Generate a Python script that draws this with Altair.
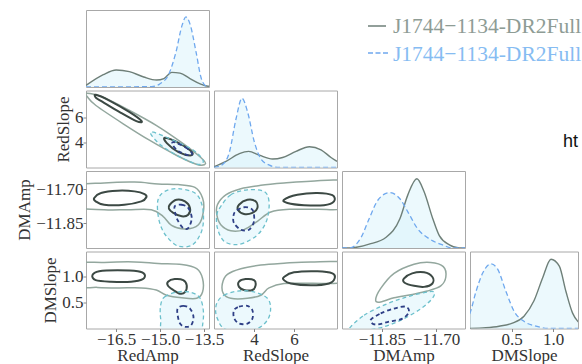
import altair as alt
import pandas as pd

# ---------------- axis ranges / ticks ----------------
PARAMS = ["RedAmp", "RedSlope", "DMAmp", "DMSlope"]
DOMAINS = {"RedAmp": [-17.53, -13.33], "RedSlope": [2.0, 8.15],
           "DMAmp": [-11.96, -11.62], "DMSlope": [0.0, 1.48]}
DMSLOPE_X_DOMAIN = [0.0, 1.30]          # last column is cut at the picture edge
TICKS = {"RedAmp": [-16.5, -15.0, -13.5], "RedSlope": [4, 6],
         "DMAmp": [-11.85, -11.70], "DMSlope": [0.5, 1.0]}
FORMATS = {"RedAmp": ".1f", "RedSlope": "d", "DMAmp": ".2f", "DMSlope": ".1f"}
SERIES = ["J1744\u22121134-DR2Full", "J1744\u22121134-DR2Full+"]
CUT_TEXT = ["ht"]

# ---------------- 1D marginals (relative density) ----------------
REDAMP_FULL_X = [-17.53, -16.94, -16.50, -16.05, -15.56, -15.12, -14.87, -14.60, -14.32, -13.98, -13.63, -13.36, -13.33]
REDAMP_FULL_D = [0.02, 0.16, 0.22, 0.20, 0.13, 0.09, 0.11, 0.19, 0.18, 0.11, 0.04, 0.01, 0.01]
REDAMP_PLUS_X = [-17.53, -15.29, -15.01, -14.70, -14.46, -14.25, -14.12, -13.98, -13.77, -13.60, -13.43, -13.33]
REDAMP_PLUS_D = [0.0, 0.005, 0.04, 0.17, 0.45, 0.80, 0.91, 0.82, 0.45, 0.12, 0.01, 0.0]

REDSLOPE_FULL_X = [2.0, 2.6, 3.27, 3.73, 4.27, 4.93, 5.43, 6.1, 6.77, 7.35, 7.85, 8.15]
REDSLOPE_FULL_D = [0.01, 0.08, 0.18, 0.21, 0.16, 0.11, 0.13, 0.21, 0.27, 0.23, 0.13, 0.08]
REDSLOPE_PLUS_X = [2.0, 2.43, 2.77, 3.1, 3.4, 3.68, 4.02, 4.35, 4.77, 5.27, 8.15]
REDSLOPE_PLUS_D = [0.0, 0.04, 0.20, 0.63, 0.90, 0.72, 0.33, 0.11, 0.03, 0.0, 0.0]

DMAMP_FULL_X = [-11.96, -11.94, -11.885, -11.838, -11.80, -11.778, -11.753, -11.733, -11.709, -11.691, -11.663, -11.636, -11.62]
DMAMP_FULL_D = [0.0, 0.0, 0.05, 0.14, 0.38, 0.69, 0.90, 0.73, 0.38, 0.16, 0.04, 0.0, 0.0]
DMAMP_PLUS_X = [-11.96, -11.94, -11.907, -11.885, -11.861, -11.829, -11.80, -11.778, -11.751, -11.719, -11.682, -11.654, -11.62]
DMAMP_PLUS_D = [0.0, 0.0, 0.14, 0.38, 0.62, 0.72, 0.64, 0.47, 0.25, 0.12, 0.04, 0.0, 0.0]

DMSLOPE_FULL_X = [0.0, 0.19, 0.35, 0.51, 0.65, 0.77, 0.875, 0.975, 1.075, 1.155, 1.235, 1.30, 1.40, 1.48]
DMSLOPE_FULL_D = [0.0, 0.01, 0.03, 0.07, 0.16, 0.36, 0.66, 0.90, 0.81, 0.48, 0.20, 0.09, 0.03, 0.01]
DMSLOPE_PLUS_X = [-0.05, 0.0, 0.072, 0.153, 0.253, 0.333, 0.433, 0.533, 0.653, 0.794, 0.954, 1.48]
DMSLOPE_PLUS_D = [0.10, 0.20, 0.48, 0.72, 0.84, 0.77, 0.48, 0.22, 0.09, 0.03, 0.0, 0.0]

# ---------------- 2D contours (x, y) ----------------
RA_RS_FULL_OUTER = [(-17.51, 7.93), (-16.95, 7.61), (-16.04, 6.55), (-15.12, 5.35), (-14.20, 3.89), (-13.62, 2.82), (-13.45, 2.30), (-13.74, 2.24), (-14.43, 2.96), (-15.35, 4.16), (-16.26, 5.49), (-17.19, 6.95), (-17.47, 7.61)]
RA_RS_FULL_IN_A = [(-17.19, 7.81), (-16.73, 7.35), (-16.04, 6.42), (-15.63, 5.70), (-15.81, 5.70), (-16.38, 6.42), (-16.95, 7.22), (-17.19, 7.57)]
RA_RS_FULL_IN_B = [(-14.83, 4.37), (-14.31, 3.89), (-13.91, 3.22), (-13.97, 2.96), (-14.37, 3.22), (-14.77, 3.95)]
RA_RS_PLUS_OUTER = [(-15.23, 4.82), (-14.54, 4.16), (-13.85, 3.36), (-13.53, 2.56), (-13.68, 2.24), (-14.20, 2.70), (-14.89, 3.63), (-15.29, 4.56)]
RA_RS_PLUS_IN = [(-14.54, 4.03), (-14.14, 3.62), (-13.91, 3.14), (-14.02, 2.96), (-14.37, 3.30), (-14.56, 3.76)]

RA_DA_FULL_OUTER = [(-17.9, -11.688), (-16.91, -11.673), (-15.87, -11.669), (-15.07, -11.677), (-14.38, -11.680), (-13.81, -11.692), (-13.55, -11.739), (-13.52, -11.798), (-13.69, -11.857), (-14.15, -11.876), (-14.61, -11.860), (-14.90, -11.820), (-15.30, -11.791), (-16.11, -11.791), (-16.91, -11.791), (-17.9, -11.776)]
RA_DA_FULL_IN_A = [(-17.25, -11.739), (-17.02, -11.717), (-16.45, -11.707), (-15.87, -11.710), (-15.53, -11.722), (-15.47, -11.736), (-15.64, -11.754), (-16.22, -11.769), (-16.91, -11.769), (-17.20, -11.754)]
RA_DA_FULL_IN_B = [(-14.67, -11.769), (-14.44, -11.747), (-14.15, -11.754), (-13.98, -11.783), (-14.04, -11.813), (-14.26, -11.820), (-14.55, -11.805), (-14.70, -11.786)]
RA_DA_PLUS_OUTER = [(-15.07, -11.747), (-14.84, -11.710), (-14.38, -11.698), (-13.81, -11.717), (-13.57, -11.769), (-13.52, -11.842), (-13.63, -11.901), (-13.92, -11.948), (-14.38, -11.952), (-14.73, -11.916), (-14.95, -11.872), (-15.07, -11.813)]
RA_DA_PLUS_IN = [(-14.50, -11.776), (-14.27, -11.769), (-14.04, -11.783), (-13.92, -11.828), (-14.04, -11.872), (-14.21, -11.872), (-14.38, -11.842), (-14.47, -11.813)]

RS_DA_FULL_OUTER = [(8.6, -11.669), (6.84, -11.665), (5.5, -11.673), (4.34, -11.683), (3.34, -11.698), (2.59, -11.725), (2.17, -11.769), (2.14, -11.813), (2.34, -11.857), (2.84, -11.884), (3.5, -11.879), (4.17, -11.842), (4.84, -11.801), (5.84, -11.789), (7.17, -11.789), (8.6, -11.780)]
RS_DA_FULL_IN_A = [(5.5, -11.747), (6.17, -11.725), (7.17, -11.717), (7.92, -11.727), (8.0, -11.754), (7.5, -11.771), (6.5, -11.771), (5.67, -11.761)]
RS_DA_FULL_IN_B = [(3.25, -11.769), (3.67, -11.747), (4.08, -11.754), (4.17, -11.783), (3.92, -11.805), (3.5, -11.810), (3.2, -11.791)]
RS_DA_PLUS_OUTER = [(2.34, -11.776), (2.84, -11.725), (3.67, -11.703), (4.5, -11.710), (4.75, -11.754), (4.67, -11.828), (4.34, -11.886), (3.84, -11.923), (3.17, -11.945), (2.5, -11.930), (2.17, -11.872), (2.14, -11.813)]
RS_DA_PLUS_IN = [(3.08, -11.798), (3.5, -11.780), (3.92, -11.791), (4.0, -11.842), (3.75, -11.879), (3.34, -11.879), (3.0, -11.850), (2.97, -11.820)]

RA_DS_FULL_OUTER = [(-17.9, 1.23), (-16.91, 1.27), (-15.87, 1.28), (-15.07, 1.25), (-14.26, 1.23), (-13.75, 1.15), (-13.55, 0.96), (-13.55, 0.70), (-13.75, 0.58), (-14.26, 0.59), (-14.78, 0.64), (-15.13, 0.74), (-15.64, 0.78), (-16.45, 0.78), (-17.14, 0.79), (-17.9, 0.82)]
RA_DS_FULL_IN_A = [(-17.31, 1.024), (-17.08, 1.10), (-16.45, 1.12), (-15.76, 1.10), (-15.53, 1.04), (-15.59, 0.95), (-15.99, 0.90), (-16.68, 0.90), (-17.20, 0.93)]
RA_DS_FULL_IN_B = [(-14.73, 0.90), (-14.50, 0.95), (-14.21, 0.93), (-14.09, 0.83), (-14.15, 0.70), (-14.32, 0.67), (-14.55, 0.74), (-14.73, 0.82)]
RA_DS_PLUS_OUTER = [(-14.98, 0.45), (-14.84, 0.61), (-14.38, 0.705), (-13.92, 0.69), (-13.63, 0.58), (-13.52, 0.32), (-13.55, 0.06), (-13.63, -0.15), (-14.84, -0.15), (-14.98, 0.19)]
RA_DS_PLUS_IN = [(-14.40, 0.384), (-14.21, 0.436), (-13.98, 0.384), (-13.86, 0.224), (-13.94, 0.063), (-14.15, 0.032), (-14.32, 0.096), (-14.40, 0.255)]

RS_DS_FULL_OUTER = [(8.6, 1.255), (6.84, 1.28), (5.5, 1.255), (4.34, 1.22), (3.34, 1.15), (2.67, 1.04), (2.42, 0.865), (2.47, 0.67), (2.84, 0.58), (3.67, 0.58), (4.34, 0.64), (4.75, 0.78), (5.5, 0.865), (6.84, 0.87), (8.6, 0.90)]
RS_DS_FULL_IN_A = [(5.5, 0.99), (6.0, 1.08), (7.17, 1.10), (7.92, 1.06), (8.03, 0.96), (7.75, 0.865), (6.84, 0.83), (5.84, 0.865), (5.5, 0.93)]
RS_DS_FULL_IN_B = [(3.25, 0.90), (3.58, 0.95), (4.0, 0.93), (4.08, 0.83), (3.92, 0.74), (3.5, 0.74), (3.25, 0.80)]
RS_DS_PLUS_OUTER = [(2.17, 0.51), (2.5, 0.64), (3.17, 0.72), (4.0, 0.705), (4.67, 0.58), (4.83, 0.38), (4.67, 0.16), (4.17, 0.0), (3.34, -0.06), (2.5, 0.0), (2.17, 0.19), (2.08, 0.35)]
RS_DS_PLUS_IN = [(3.0, 0.35), (3.25, 0.42), (3.67, 0.436), (3.92, 0.35), (3.92, 0.19), (3.67, 0.095), (3.25, 0.095), (3.0, 0.205)]

DA_DS_FULL_OUTER = [(-11.867, 0.544), (-11.853, 0.77), (-11.816, 1.06), (-11.761, 1.236), (-11.715, 1.27), (-11.680, 1.19), (-11.673, 0.99), (-11.687, 0.82), (-11.724, 0.72), (-11.770, 0.65), (-11.816, 0.59), (-11.853, 0.51)]
DA_DS_FULL_IN = [(-11.789, 0.96), (-11.766, 1.06), (-11.733, 1.08), (-11.710, 0.99), (-11.710, 0.865), (-11.733, 0.80), (-11.761, 0.82), (-11.787, 0.88)]
DA_DS_PLUS_OUTER = [(-11.936, 0.032), (-11.899, 0.255), (-11.844, 0.45), (-11.789, 0.59), (-11.733, 0.69), (-11.706, 0.705), (-11.710, 0.58), (-11.742, 0.38), (-11.789, 0.19), (-11.844, 0.032), (-11.899, -0.03), (-11.936, -0.03)]
DA_DS_PLUS_IN = [(-11.881, 0.16), (-11.853, 0.29), (-11.816, 0.384), (-11.784, 0.42), (-11.775, 0.32), (-11.793, 0.19), (-11.830, 0.13), (-11.867, 0.076)]

# ---------------- styles ----------------
GRAY_LINE = "#6e7f78"
GRAY_OUTER = "#93a79e"
GRAY_INNER = "#3c4944"
BLUE_LINE = "#6fa8ee"
BLUE_OUTER = "#6cc0cc"
BLUE_INNER = "#2e3f86"
FILL = "#dcf4fb"
SERIF = "Liberation Serif, DejaVu Serif, serif"
W, W_LAST, H = 123, 108, 77


def xenc(name, show, dom=None):
    sc = alt.Scale(domain=dom or DOMAINS[name], nice=False, zero=False)
    if show:
        return alt.X("x:Q", scale=sc, axis=alt.Axis(values=TICKS[name], format=FORMATS[name], title=name,
                                                     titleY=32, titleBaseline="alphabetic"))
    return alt.X("x:Q", scale=sc, axis=None)


def yenc(name, show):
    sc = alt.Scale(domain=DOMAINS[name], nice=False, zero=False)
    if show:
        return alt.Y("y:Q", scale=sc, axis=alt.Axis(values=TICKS[name], format=FORMATS[name], title=name))
    return alt.Y("y:Q", scale=sc, axis=None)


def pts_df(pts):
    return pd.DataFrame({"x": [p[0] for p in pts], "y": [p[1] for p in pts], "i": list(range(len(pts)))})


def diag(name, fx, fd, px, pd_, showx, dom=None, width=W):
    df_f = pd.DataFrame({"x": fx, "d": fd})
    df_p = pd.DataFrame({"x": px, "d": pd_})
    x = xenc(name, showx, dom)
    y = alt.Y("d:Q", scale=alt.Scale(domain=[0, 1]), axis=None)
    layers = [
        alt.Chart(df_f).mark_area(clip=True, interpolate="monotone", color=FILL, opacity=0.55).encode(x=x, y=y),
        alt.Chart(df_p).mark_area(clip=True, interpolate="monotone", color=FILL, opacity=0.55).encode(x=x, y=y),
        alt.Chart(df_f).mark_line(clip=True, interpolate="monotone", color=GRAY_LINE, strokeWidth=1.4).encode(x=x, y=y),
        alt.Chart(df_p).mark_line(clip=True, interpolate="monotone", color=BLUE_LINE, strokeWidth=1.3,
                                  strokeDash=[5, 3]).encode(x=x, y=y),
    ]
    return alt.layer(*layers).properties(width=width, height=H)


def pair(xname, yname, full_outer, full_inners, plus_outer, plus_inner, showx, showy):
    x = xenc(xname, showx)
    y = yenc(yname, showy)
    o = alt.Order("i:Q")

    def ln(pts, **kw):
        return alt.Chart(pts_df(pts)).mark_line(interpolate="cardinal-closed", clip=True, **kw).encode(x=x, y=y, order=o)

    layers = [ln(plus_outer, fill=FILL, fillOpacity=0.55, strokeOpacity=0, stroke=BLUE_OUTER),
              ln(full_outer, stroke=GRAY_OUTER, strokeWidth=1.5)]
    for c in full_inners:
        layers.append(ln(c, stroke=GRAY_INNER, strokeWidth=2))
    layers.append(ln(plus_outer, stroke=BLUE_OUTER, strokeWidth=1.3, strokeDash=[4, 3]))
    layers.append(ln(plus_inner, stroke=BLUE_INNER, strokeWidth=1.8, strokeDash=[4, 3]))
    return alt.layer(*layers).properties(width=W, height=H)


NOVIEW = alt.ViewBackground(stroke="transparent")


def empty(width=W):
    return alt.Chart(pd.DataFrame({"v": [0]})).mark_point(opacity=0).encode(
        x=alt.value(0), y=alt.value(0)).properties(width=width, height=H, view=NOVIEW)


def legend_cell():
    one = pd.DataFrame({"label": [SERIES[0]]})
    two = pd.DataFrame({"label": [SERIES[1]]})
    layers = [
        alt.Chart(one).mark_rule(color=GRAY_LINE, strokeWidth=1.5).encode(
            x=alt.value(154), x2=alt.value(172), y=alt.value(16)),
        alt.Chart(one).mark_text(align="left", baseline="middle", font=SERIF, fontSize=21.5,
                                 color="#8e9c95").encode(x=alt.value(179), y=alt.value(17), text="label:N"),
        alt.Chart(two).mark_rule(color=BLUE_LINE, strokeWidth=1.5, strokeDash=[5, 2.5]).encode(
            x=alt.value(154), x2=alt.value(174), y=alt.value(43)),
        alt.Chart(two).mark_text(align="left", baseline="middle", font=SERIF, fontSize=21.5,
                                 color="#86bcf2", limit=194, ellipsis="\u200b").encode(
            x=alt.value(179), y=alt.value(45), text="label:N"),
    ]
    return alt.layer(*layers).properties(width=W, height=H, view=NOVIEW)


def cut_text_cell():
    df = pd.DataFrame({"t": CUT_TEXT})
    return alt.Chart(df).mark_text(align="left", baseline="alphabetic", font="Liberation Sans",
                                   fontSize=18, color="#111111").encode(
        x=alt.value(93), y=alt.value(56), text="t:N").properties(width=W_LAST, height=H, view=NOVIEW)


cells = [
    diag("RedAmp", REDAMP_FULL_X, REDAMP_FULL_D, REDAMP_PLUS_X, REDAMP_PLUS_D, False),
    legend_cell(), empty(), empty(W_LAST),

    pair("RedAmp", "RedSlope", RA_RS_FULL_OUTER, [RA_RS_FULL_IN_A, RA_RS_FULL_IN_B], RA_RS_PLUS_OUTER, RA_RS_PLUS_IN, False, True),
    diag("RedSlope", REDSLOPE_FULL_X, REDSLOPE_FULL_D, REDSLOPE_PLUS_X, REDSLOPE_PLUS_D, False),
    empty(), cut_text_cell(),

    pair("RedAmp", "DMAmp", RA_DA_FULL_OUTER, [RA_DA_FULL_IN_A, RA_DA_FULL_IN_B], RA_DA_PLUS_OUTER, RA_DA_PLUS_IN, False, True),
    pair("RedSlope", "DMAmp", RS_DA_FULL_OUTER, [RS_DA_FULL_IN_A, RS_DA_FULL_IN_B], RS_DA_PLUS_OUTER, RS_DA_PLUS_IN, False, False),
    diag("DMAmp", DMAMP_FULL_X, DMAMP_FULL_D, DMAMP_PLUS_X, DMAMP_PLUS_D, False),
    empty(W_LAST),

    pair("RedAmp", "DMSlope", RA_DS_FULL_OUTER, [RA_DS_FULL_IN_A, RA_DS_FULL_IN_B], RA_DS_PLUS_OUTER, RA_DS_PLUS_IN, True, True),
    pair("RedSlope", "DMSlope", RS_DS_FULL_OUTER, [RS_DS_FULL_IN_A, RS_DS_FULL_IN_B], RS_DS_PLUS_OUTER, RS_DS_PLUS_IN, True, False),
    pair("DMAmp", "DMSlope", DA_DS_FULL_OUTER, [DA_DS_FULL_IN], DA_DS_PLUS_OUTER, DA_DS_PLUS_IN, True, False),
    diag("DMSlope", DMSLOPE_FULL_X, DMSLOPE_FULL_D, DMSLOPE_PLUS_X, DMSLOPE_PLUS_D, True, dom=DMSLOPE_X_DOMAIN, width=W_LAST),
]

chart = alt.concat(
    *cells, columns=4, spacing={"row": 3.5, "column": 5}, bounds="flush", align="each"
).properties(
    padding={"left": 15, "top": 6, "right": 0, "bottom": 0}
).configure_view(
    stroke="#a8a8a8", strokeWidth=1
).configure_axis(
    labelFont=SERIF, labelFontSize=17, labelColor="#333333",
    titleFont=SERIF, titleFontSize=17, titleFontWeight="normal", titleColor="#333333",
    tickColor="#888888", tickSize=3, domain=False, grid=False,
    labelPadding=0, titlePadding=2, labelOverlap=False, labelFlush=False
)

chart.save("out.html", embed_options={"renderer": "svg", "actions": False})
